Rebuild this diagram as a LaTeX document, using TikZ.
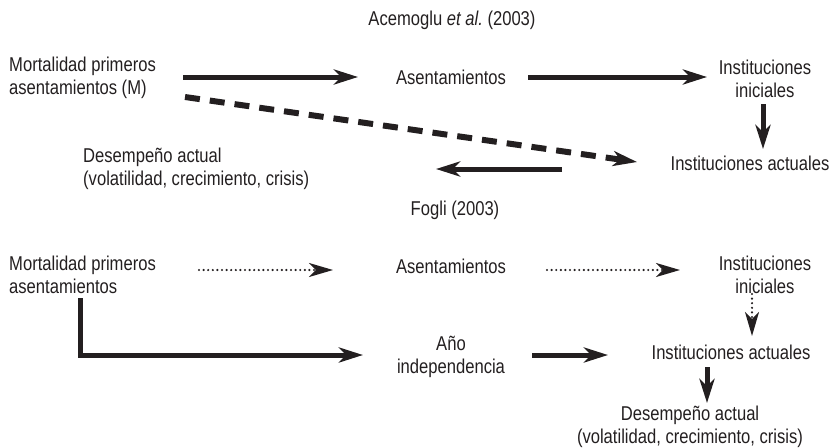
\documentclass[tikz,border=0pt]{standalone}
\usepackage{fontspec}
\setmainfont{Liberation Sans}[FakeStretch=0.83]
\usetikzlibrary{arrows.meta}
\definecolor{ink}{HTML}{231F20}
\begin{document}
\frenchspacing
\begin{tikzpicture}[x=1pt,y=-1pt,
  txt/.style={inner sep=0pt, font=\fontsize{20}{23}\selectfont, text=ink, align=center},
  txtl/.style={txt, align=left, anchor=west},
  tip/.style={-{Stealth[length=24pt,width=15pt,inset=7pt]}},
  bigarrow/.style={draw=ink, line width=5pt, tip},
  dasharrow/.style={draw=ink, line width=6pt, dash pattern=on 15pt off 10pt, tip},
  dotarrow/.style={draw=ink, line width=2.4pt, line cap=round, dash pattern=on 0pt off 4.6pt, -{Stealth[length=24pt,width=14pt,inset=7pt,line cap=butt]}}
]
\useasboundingbox (0,0) rectangle (832,447);

% ---------- Acemoglu et al. (2003) ----------
\node[txt] (h1) at (452,20) {Acemoglu \textit{et al.} (2003)};
\node[txtl] (m1) at (9,78) {Mortalidad primeros\\asentamientos (M)};
\node[txt] (a1) at (451,77) {Asentamientos};
\node[txt] (ii1) at (765,79) {Instituciones\\iniciales};
\node[txt] (ia1) at (750,163) {Instituciones actuales};
\node[txtl] (d1) at (83,169) {Desempeño actual\\(volatilidad, crecimiento, crisis)};

\coordinate (m1e) at (183,77);  \coordinate (a1w) at (358,77);
\coordinate (a1e) at (528,77);  \coordinate (ii1w) at (707,77);
\coordinate (ii1s) at (763,104); \coordinate (ia1n) at (763,149);
\coordinate (m1s) at (185,97);  \coordinate (ia1w) at (637,162);
\coordinate (ia1l) at (562,169); \coordinate (d1e) at (436,169);

\draw[bigarrow] (m1e) -- (a1w);
\draw[bigarrow] (a1e) -- (ii1w);
\draw[bigarrow] (ii1s) -- (ia1n);
\draw[dasharrow] (m1s) -- (ia1w);
\draw[bigarrow] (ia1l) -- (d1e);

% ---------- Fogli (2003) ----------
\node[txt] (h2) at (455,210) {Fogli (2003)};
\node[txtl] (m2) at (9,275) {Mortalidad primeros\\asentamientos};
\node[txt] (a2) at (451,266) {Asentamientos};
\node[txt] (ii2) at (765,275) {Instituciones\\iniciales};
\node[txt] (ia2) at (731,352) {Instituciones actuales};
\node[txt] (ai) at (451,357) {Año\\independencia};
\node[txt] (d2) at (690,427) {Desempeño actual\\(volatilidad, crecimiento, crisis)};

\coordinate (m2e) at (199,270);  \coordinate (a2w) at (333,270);
\coordinate (a2e) at (547,270);  \coordinate (ii2w) at (680,270);
\coordinate (ii2s) at (752,294); \coordinate (ia2n) at (752,336);
\coordinate (m2s) at (80,298);   \coordinate (aiw) at (363,355);
\coordinate (aie) at (532,355);  \coordinate (ia2w) at (608,355);
\coordinate (ia2s) at (707,367); \coordinate (d2n) at (707,403);

\draw[dotarrow] (m2e) -- (a2w);
\draw[dotarrow] (a2e) -- (ii2w);
\draw[dotarrow] (ii2s) -- (ia2n);
\draw[bigarrow] (m2s) |- (aiw);
\draw[bigarrow] (aie) -- (ia2w);
\draw[bigarrow] (ia2s) -- (d2n);
\end{tikzpicture}
\end{document}
